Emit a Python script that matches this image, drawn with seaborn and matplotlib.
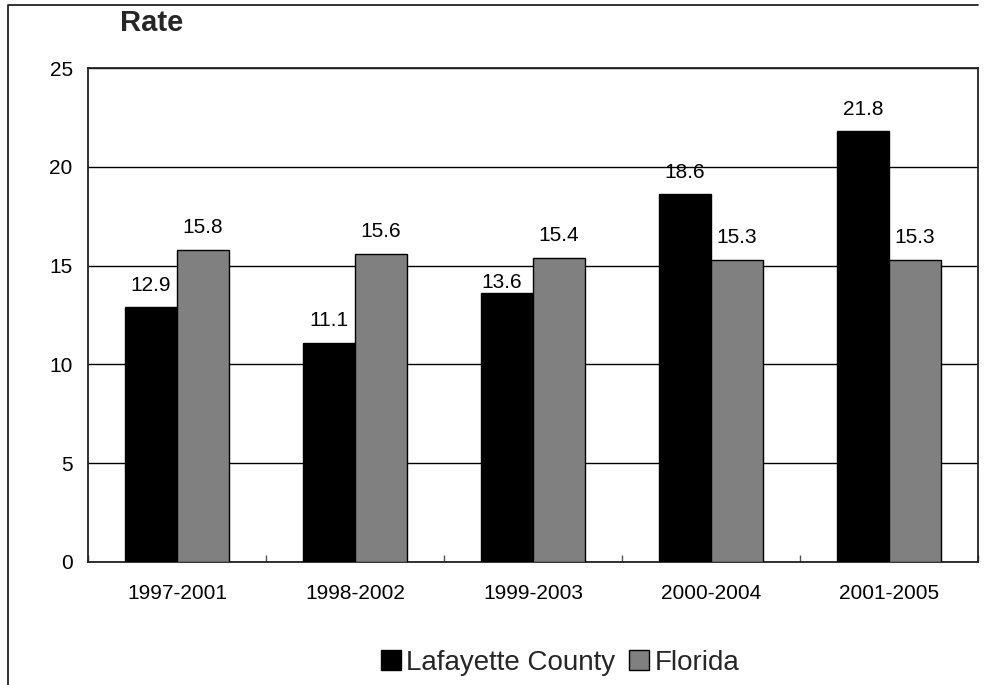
import numpy as np
import pandas as pd
import seaborn as sns
import matplotlib.pyplot as plt
from matplotlib.lines import Line2D
from matplotlib.patches import Patch

periods = ['1997-2001', '1998-2002', '1999-2003', '2000-2004', '2001-2005']
lafayette = [12.9, 11.1, 13.6, 18.6, 21.8]
florida = [15.8, 15.6, 15.4, 15.3, 15.3]
series = ['Lafayette County', 'Florida']

df = pd.DataFrame({
    'period': periods * 2,
    'rate': lafayette + florida,
    'area': [series[0]] * len(periods) + [series[1]] * len(periods),
})

sns.set_theme(style="white")
plt.rcParams['font.family'] = ['Liberation Sans', 'DejaVu Sans']

fig = plt.figure(figsize=(9.86, 6.85), dpi=100)
ax = fig.add_axes([0.0892, 0.1796, 0.9027, 0.7211])

g = sns.barplot(data=df, x='period', y='rate', hue='area', order=periods,
                hue_order=series, palette=['#000000', '#808080'],
                width=0.585, edgecolor='black', linewidth=1, saturation=1,
                legend=False, ax=ax, zorder=3)

for c in ax.containers:
    anns = ax.bar_label(c, fmt='%.1f', padding=9, fontsize=15, color='black')
    for a in anns:
        # the 13.6 label sits close to its bar in the original (kept off the gridline)
        if a.get_text() == '13.6':
            a.xyann = (-4, 1)

ax.set_ylim(0, 25)
ax.set_xlim(-0.5, 4.5)
ax.set_yticks([0, 5, 10, 15, 20, 25])
ax.yaxis.grid(True, color='black', linewidth=1, zorder=0)
ax.set_axisbelow(True)
ax.set_xlabel('')
ax.set_ylabel('')
ax.tick_params(axis='y', length=0, pad=11, labelsize=15, labelcolor='black')
ax.tick_params(axis='x', which='major', length=0, pad=16, labelsize=15, labelcolor='black')
ax.set_xticks(np.arange(-0.5, 5, 1), minor=True)
ax.tick_params(axis='x', which='minor', direction='in', length=5, width=1,
               color='#555555', bottom=True)
for s in ax.spines.values():
    s.set_color('#222222')
    s.set_linewidth(1.3)

fig.text(0.1217, 0.966, 'Rate', fontsize=21, fontweight='bold', va='center', ha='left')

handles = [Patch(facecolor='#000000', edgecolor='black'),
           Patch(facecolor='#808080', edgecolor='black')]
fig.legend(handles, series, loc='center', bbox_to_anchor=(0.568, 0.032), ncol=2,
           frameon=False, fontsize=20, handlelength=0.72, handleheight=0.72,
           handletextpad=0.2, columnspacing=0.5, borderpad=0)

# outer frame (left and top edges only)
fig.add_artist(Line2D([0.0081, 0.0081, 0.9919], [0.0, 0.9927, 0.9927],
                      transform=fig.transFigure, color='#222222', linewidth=1.3))

fig.savefig('out.png', dpi=100, facecolor='white')
